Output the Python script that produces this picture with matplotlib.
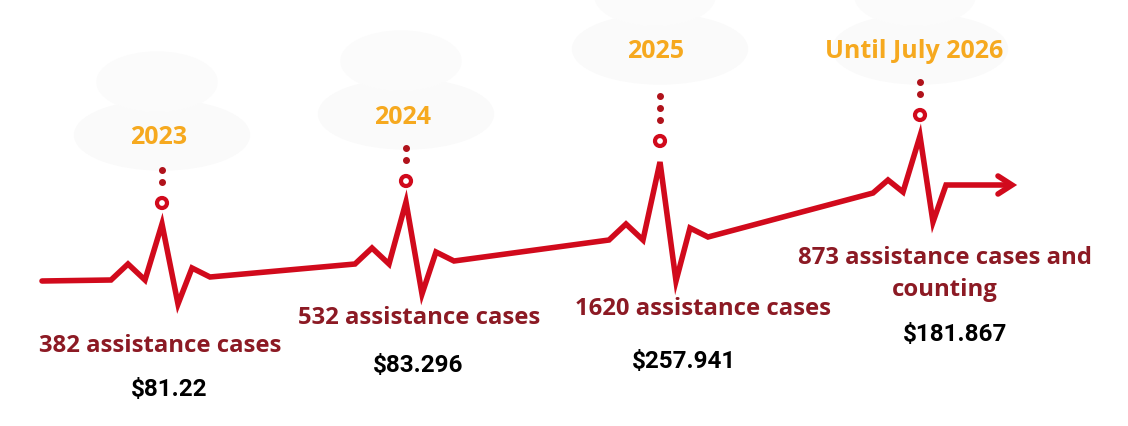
import numpy as np
import matplotlib
matplotlib.use("Agg")
import matplotlib.pyplot as plt
from matplotlib.patches import Ellipse, Circle

# chart content
periods = ["2023", "2024", "2025", "Until July 2026"]
cases = ["382 assistance cases", "532 assistance cases",
         "1620 assistance cases", "873 assistance cases and\ncounting"]
amounts = ["$81.22", "$83.296", "$257.941", "$181.867"]

# layout (pixel space, y grows downward)
beat_x = [162, 406, 660, 920]
beat_base = [281, 265, 241, 194]
spike_up = [56, 62, 78, 57]
spike_down = [24, 30, 41, 29]
label_x = [160, 419, 703, 945]
label_y = [346, 318, 309, 274]
amount_x = [169, 418, 684, 955]
amount_y = [390, 366, 362, 335]
year_x = [159, 403, 656, 914]
year_y = [138, 117, 52, 52]
n_dots = [2, 2, 3, 2]

RED = "#d10a1c"
DARK = "#8c1a24"
ORANGE = "#f6a91f"

fig = plt.figure(figsize=(11.28, 4.27), dpi=100)
ax = fig.add_axes([0, 0, 1, 1])
ax.set_xlim(0, 1128)
ax.set_ylim(427, 0)
ax.axis("off")

# very faint background blobs behind the year labels
for i in range(4):
    ax.add_patch(Ellipse((beat_x[i], year_y[i] - 2), 175, 70, color="#fafafa", zorder=0))
    ax.add_patch(Ellipse((beat_x[i] - 5, year_y[i] - 55), 120, 60, color="#fbfbfb", zorder=0))

# heartbeat line built from one beat template
xs, ys = [42], [beat_base[0] + 1]
for i in range(4):
    cx, b = beat_x[i], beat_base[i]
    up, dn = spike_up[i], spike_down[i]
    pts = [(-51, 0), (-34, -16), (-17, 0), (0, -up), (16, dn),
           (30, -12), (48, -3)]
    if i == 3:
        pts = [(-47, 0), (-32, -13), (-17, -1), (0, -up), (13, dn),
               (26, -8), (88, -8)]
    for dx, dy in pts:
        xs.append(cx + dx)
        ys.append(b + dy)
ax.plot(xs, ys, color=RED, lw=4, solid_joinstyle="miter",
        solid_capstyle="round", zorder=3)
# arrow head
tip = (xs[-1] + 4, ys[-1])
ax.plot([tip[0] - 14, tip[0], tip[0] - 14], [tip[1] - 9, tip[1], tip[1] + 9],
        color=RED, lw=4, solid_capstyle="round", solid_joinstyle="miter", zorder=3)

for i in range(4):
    cx = beat_x[i]
    peak = beat_base[i] - spike_up[i]
    cy = peak - 21
    ax.add_patch(Circle((cx, cy), 5, fill=False, ec=RED, lw=3, zorder=4))
    for k in range(n_dots[i]):
        ax.plot(cx, cy - 21 - 12 * k, "o", color="#b0121b", ms=4, zorder=4)
    ax.text(year_x[i], year_y[i], periods[i],
            ha="center", va="center", color=ORANGE, fontsize=18,
            fontweight="bold", family="Open Sans", zorder=5)
    ax.text(label_x[i], label_y[i], cases[i], ha="center", va="center",
            color=DARK, fontsize=17.2, fontweight="bold", family="Open Sans",
            linespacing=1.45, zorder=5)
    ax.text(amount_x[i], amount_y[i], amounts[i], ha="center", va="center",
            color="black", fontsize=17.5, fontweight="bold", family="Roboto",
            zorder=5)

fig.savefig("out.png", dpi=100, facecolor="white")
